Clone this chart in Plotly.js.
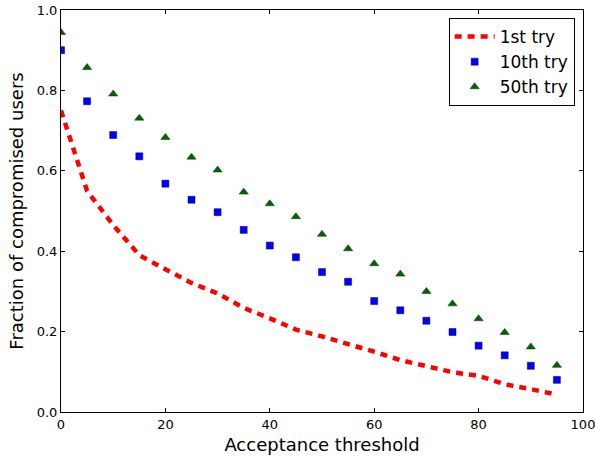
<!DOCTYPE html>
<html><head><meta charset="utf-8">
<script src="https://cdn.plot.ly/plotly-3.0.1.min.js"></script>
<style>html,body{margin:0;padding:0;background:#fff}</style>
</head><body><div id="chart" style="width:595px;height:458px"></div>
<script>
var thresholds = [0,5,10,15,20,25,30,35,40,45,50,55,60,65,70,75,80,85,90,95];
var firstTry = [0.75,0.55,0.465,0.39,0.355,0.321,0.295,0.259,0.233,0.205,0.188,0.170,0.150,0.129,0.113,0.099,0.090,0.069,0.057,0.043];
var tenthTry = [0.90,0.773,0.689,0.636,0.568,0.528,0.497,0.453,0.414,0.385,0.348,0.324,0.276,0.253,0.227,0.199,0.165,0.141,0.115,0.080];
var fiftiethTry = [0.944,0.857,0.791,0.731,0.683,0.634,0.602,0.547,0.518,0.486,0.442,0.406,0.369,0.343,0.300,0.269,0.232,0.198,0.162,0.116];
var xTicks = [0,20,40,60,80,100];
var yTicks = [0,0.2,0.4,0.6,0.8,1.0];
var yTickText = ['0.0','0.2','0.4','0.6','0.8','1.0'];

var traces = [
  {x: thresholds, y: firstTry, name: '1st try', mode: 'lines',
   line: {color: '#ff0000', width: 4.5, dash: '7px,6px'}},
  {x: thresholds, y: tenthTry, name: '10th try', mode: 'markers',
   marker: {color: '#0000ff', symbol: 'square', size: 7, line: {color: '#000055', width: 0.5}}},
  {x: thresholds, y: fiftiethTry, name: '50th try', mode: 'markers',
   marker: {color: '#006400', symbol: 'triangle-up', size: 8, line: {color: '#003300', width: 0.5}}}
];
var axisCommon = {
  showgrid: false, zeroline: false, showline: true, linecolor: '#000', linewidth: 1,
  mirror: 'allticks', ticks: 'inside', ticklen: 4, tickcolor: '#000', tickwidth: 1,
  ticklabeloverflow: 'allow',
  tickfont: {family: 'DejaVu Sans', size: 13, color: '#000'}
};
var layout = {
  width: 595, height: 458,
  margin: {l: 61, r: 12, t: 10, b: 46},
  paper_bgcolor: '#fff', plot_bgcolor: '#fff',
  font: {family: 'DejaVu Sans', color: '#000'},
  showlegend: true,
  legend: {x: 0.984, y: 0.98, xanchor: 'right', yanchor: 'top',
    bgcolor: '#fff', bordercolor: '#000', borderwidth: 1, itemwidth: 40,
    font: {family: 'DejaVu Sans', size: 17, color: '#000'}, tracegroupgap: 0},
  xaxis: Object.assign({}, axisCommon, {range: [0, 100], tickvals: xTicks,
    title: {text: 'Acceptance threshold', font: {family: 'DejaVu Sans', size: 18}, standoff: 7}}),
  yaxis: Object.assign({}, axisCommon, {range: [0, 1], tickvals: yTicks, ticktext: yTickText,
    title: {text: 'Fraction of compromised users', font: {family: 'DejaVu Sans', size: 18}, standoff: 8}})
};
Plotly.newPlot('chart', traces, layout, {displayModeBar: false, staticPlot: true});
</script></body></html>
